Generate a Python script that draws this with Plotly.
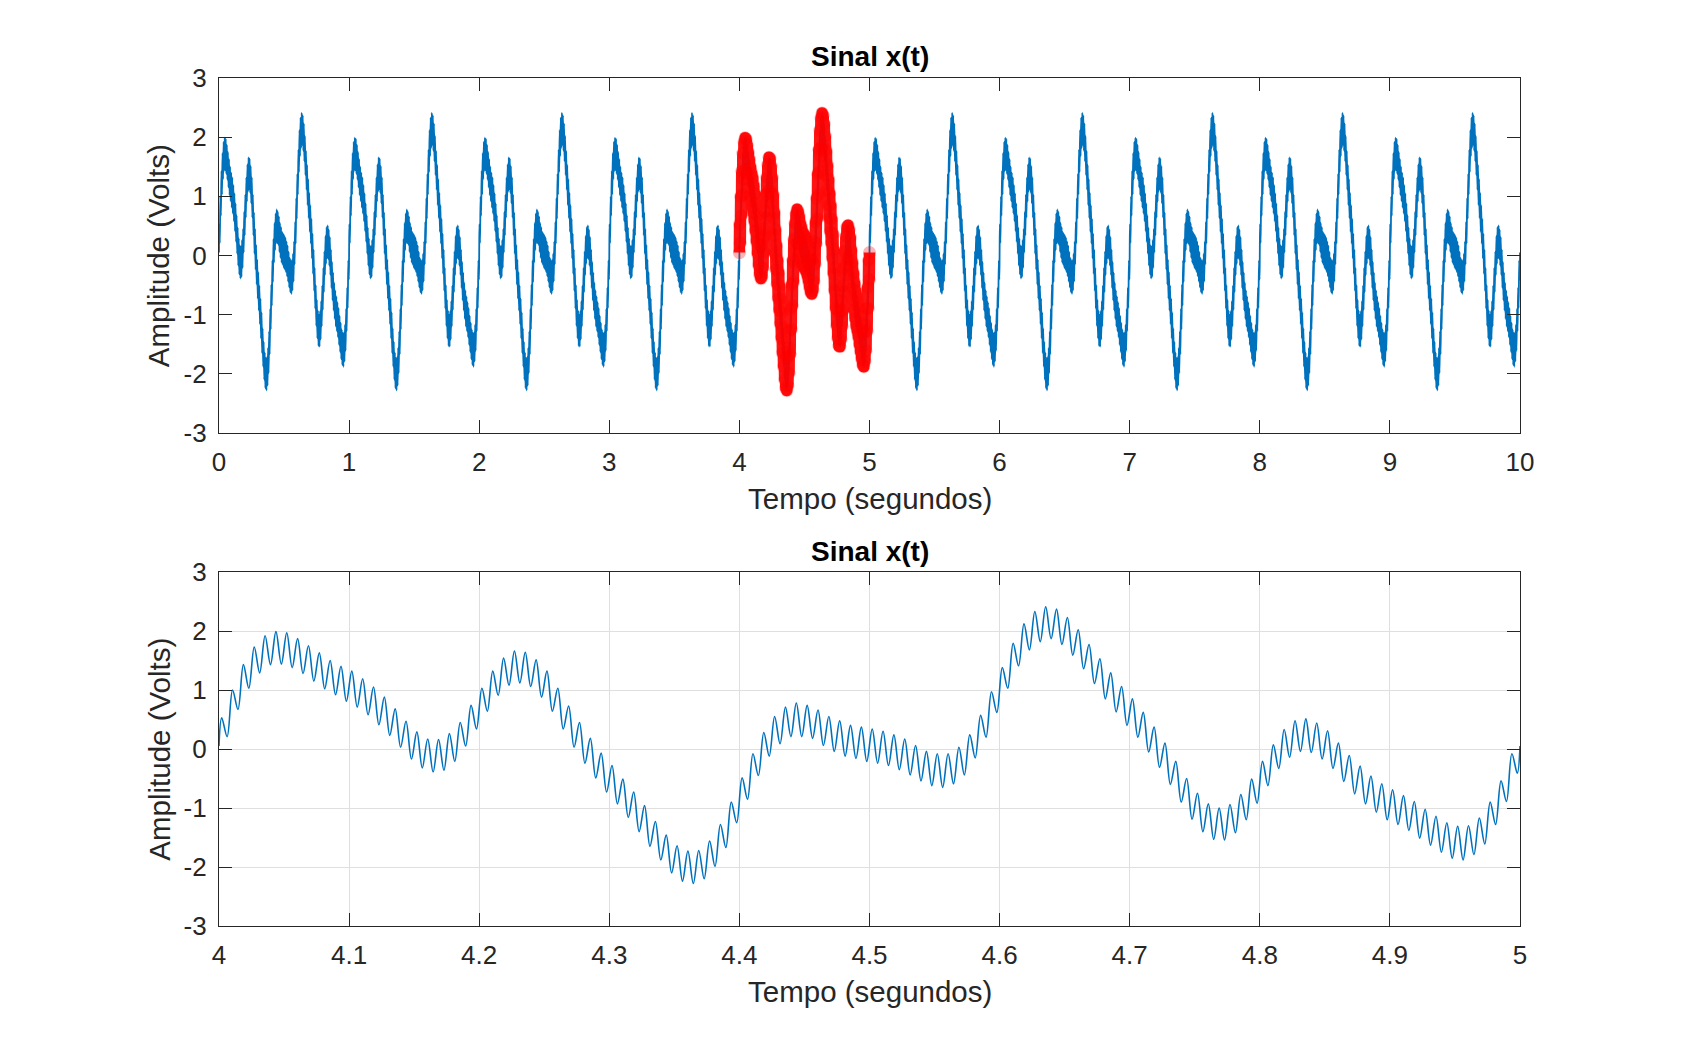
import plotly.graph_objects as go

# ---------------- data ----------------
ripple_hz = 120          # fast ripple: 12 cycles per 0.1 s
n_periods = 10           # the 1-second pattern repeats 10 times in the top plot
cycle_start = 0.05       # value at each whole second

# ripple crest values over one 1-second period (read from the 4-5 s zoom)
peaks = [
    0.53, 1.00, 1.43, 1.73, 1.92, 1.99, 1.97, 1.87, 1.75, 1.63,
    1.50, 1.40, 1.32, 1.19, 1.05, 0.88, 0.68, 0.47, 0.29, 0.17,
    0.16, 0.26, 0.45, 0.74, 1.03, 1.32, 1.54, 1.66, 1.64, 1.51,
    1.32, 1.03, 0.73, 0.45, 0.18, -0.07, -0.28, -0.51, -0.73, -0.96,
    -1.23, -1.46, -1.64, -1.73, -1.72, -1.56, -1.28, -0.90, -0.49, -0.08,
    0.28, 0.55, 0.71, 0.78, 0.74, 0.66, 0.55, 0.48, 0.40, 0.37,
    0.34, 0.30, 0.24, 0.17, 0.06, -0.04, -0.08, -0.08, 0.03, 0.24,
    0.57, 0.97, 1.38, 1.79, 2.12, 2.33, 2.41, 2.37, 2.23, 2.02,
    1.77, 1.53, 1.29, 1.06, 0.85, 0.62, 0.37, 0.10, -0.21, -0.50,
    -0.75, -0.93, -1.00, -0.94, -0.77, -0.51, -0.21, 0.07, 0.33, 0.48,
    0.51, 0.44, 0.31, 0.10, -0.11, -0.29, -0.46, -0.59, -0.69, -0.79,
    -0.89, -1.02, -1.14, -1.25, -1.31, -1.30, -1.17, -0.90, -0.54, -0.08,
]
# ripple trough values over the same period
troughs = [
    0.21, 0.67, 1.03, 1.29, 1.43, 1.44, 1.38, 1.28, 1.15, 1.02,
    0.92, 0.81, 0.71, 0.58, 0.41, 0.23, 0.03, -0.17, -0.32, -0.39,
    -0.36, -0.21, 0.05, 0.34, 0.64, 0.91, 1.08, 1.12, 1.06, 0.88,
    0.64, 0.34, 0.03, -0.24, -0.49, -0.73, -0.93, -1.16, -1.40, -1.65,
    -1.88, -2.10, -2.24, -2.28, -2.20, -1.99, -1.67, -1.25, -0.85, -0.45,
    -0.12, 0.09, 0.21, 0.21, 0.18, 0.06, -0.04, -0.12, -0.16, -0.21,
    -0.24, -0.28, -0.35, -0.44, -0.54, -0.62, -0.65, -0.59, -0.44, -0.15,
    0.20, 0.62, 1.03, 1.41, 1.68, 1.82, 1.87, 1.77, 1.59, 1.36,
    1.11, 0.85, 0.63, 0.40, 0.20, -0.05, -0.31, -0.60, -0.90, -1.19,
    -1.40, -1.53, -1.54, -1.42, -1.20, -0.92, -0.62, -0.33, -0.14, -0.04,
    -0.06, -0.17, -0.33, -0.55, -0.76, -0.93, -1.07, -1.20, -1.28, -1.38,
    -1.51, -1.63, -1.75, -1.85, -1.88, -1.79, -1.61, -1.28, -0.89, -0.41,
]

zoom_start = 4
zoom_end = 5

x_ticks_top = [0, 1, 2, 3, 4, 5, 6, 7, 8, 9, 10]
x_labels_top = ["0", "1", "2", "3", "4", "5", "6", "7", "8", "9", "10"]
x_ticks_zoom = [4.0, 4.1, 4.2, 4.3, 4.4, 4.5, 4.6, 4.7, 4.8, 4.9, 5.0]
x_labels_zoom = ["4", "4.1", "4.2", "4.3", "4.4", "4.5", "4.6", "4.7", "4.8", "4.9", "5"]
y_ticks = [-3, -2, -1, 0, 1, 2, 3]
y_labels = ["-3", "-2", "-1", "0", "1", "2", "3"]

title_text = "Sinal x(t)"
x_title = "Tempo (segundos)"
y_title = "Amplitude (Volts)"

# ---------------- build the sampled series ----------------
t = []
x = []
for p in range(n_periods):
    t.append(float(p))
    x.append(cycle_start)
    for k in range(len(peaks)):
        t.append(p + (k + 0.25) / ripple_hz)
        x.append(peaks[k])
        t.append(p + (k + 0.75) / ripple_hz)
        x.append(troughs[k])
t.append(float(n_periods))
x.append(cycle_start)

t_zoom = [ti for ti in t if zoom_start - 1e-9 <= ti <= zoom_end + 1e-9]
x_zoom = [xi for ti, xi in zip(t, x) if zoom_start - 1e-9 <= ti <= zoom_end + 1e-9]

# ---------------- figure ----------------
FONT = "Liberation Sans, Arial, Helvetica, sans-serif"
INK = "#262626"
BLUE = "#0072BD"

fig = go.Figure()
fig.add_trace(go.Scatter(
    x=t, y=x, mode="lines", xaxis="x", yaxis="y",
    line=dict(color=BLUE, width=1.8, shape="spline", simplify=False),
    showlegend=False, hoverinfo="skip"))
# highlighted 4-5 s segment: dense translucent red circles along the signal
fig.add_trace(go.Scatter(
    x=t_zoom, y=x_zoom, mode="lines", xaxis="x", yaxis="y",
    line=dict(color="rgba(255,0,0,0.92)", width=11.5, shape="spline", simplify=False),
    showlegend=False, hoverinfo="skip"))
fig.add_trace(go.Scatter(
    x=t_zoom, y=x_zoom, mode="markers", xaxis="x", yaxis="y",
    marker=dict(color="rgba(255,0,0,0.3)", size=13, line=dict(width=0)),
    showlegend=False, hoverinfo="skip"))
fig.add_trace(go.Scatter(
    x=t_zoom, y=x_zoom, mode="lines", xaxis="x2", yaxis="y2",
    line=dict(color=BLUE, width=1.6, shape="spline", simplify=False),
    showlegend=False, hoverinfo="skip"))

axis_common = dict(
    showline=True, linecolor=INK, linewidth=1.3, mirror="ticks",
    ticks="inside", ticklen=13, tickwidth=1.3, tickcolor=INK,
    tickfont=dict(family=FONT, size=26, color=INK),
    zeroline=False,
)

# page has an 8 px body margin: figure is placed at (8, 8)
OFF = 8
W = 1681 - 2 * OFF
H = 1042 - 2 * OFF
L = 219 - OFF
T = 78 - OFF
R = W - (1520 - OFF)
B = H - (926 - OFF)

top_lo = 1 - 355 / 848
bot_hi = 354 / 848

fig.update_layout(
    width=W, height=H,
    margin=dict(l=L, r=R, t=T, b=B),
    paper_bgcolor="white", plot_bgcolor="white",
    font=dict(family=FONT, color=INK),
    xaxis=dict(axis_common, domain=[0, 1], anchor="y", range=[0, 10],
               tickvals=x_ticks_top, ticktext=x_labels_top, showgrid=False,
               ticklabelstandoff=6),
    yaxis=dict(axis_common, domain=[top_lo, 1], anchor="x", range=[-3, 3],
               tickvals=y_ticks, ticktext=y_labels, showgrid=False,
               ticklabelstandoff=6),
    xaxis2=dict(axis_common, domain=[0, 1], anchor="y2", range=[4, 5],
                tickvals=x_ticks_zoom, ticktext=x_labels_zoom,
                showgrid=True, gridcolor="#dfdfdf", gridwidth=1,
                ticklabelstandoff=6),
    yaxis2=dict(axis_common, domain=[0, bot_hi], anchor="x2", range=[-3, 3],
                tickvals=y_ticks, ticktext=y_labels,
                showgrid=True, gridcolor="#dfdfdf", gridwidth=1,
                ticklabelstandoff=6),
)

def px_to_paper_y(py):
    return (926 - py) / 848

def px_to_paper_x(px):
    return (px - 219) / 1301

ann = []
for ty in (57, 551):
    ann.append(dict(text="<b>" + title_text + "</b>", xref="paper", yref="paper",
                    x=0.5, y=px_to_paper_y(ty), xanchor="center", yanchor="middle",
                    showarrow=False, font=dict(family=FONT, size=28, color="black")))
for ty in (498.5, 991.6):
    ann.append(dict(text=x_title, xref="paper", yref="paper",
                    x=0.5, y=px_to_paper_y(ty), xanchor="center", yanchor="middle",
                    showarrow=False, font=dict(family=FONT, size=29.5, color=INK)))
for ty in (255.5, 749):
    ann.append(dict(text=y_title, xref="paper", yref="paper", textangle=-90,
                    x=px_to_paper_x(158.7), y=px_to_paper_y(ty),
                    xanchor="center", yanchor="middle",
                    showarrow=False, font=dict(family=FONT, size=29.5, color=INK)))
fig.update_layout(annotations=ann)

fig.write_html("out.html")
